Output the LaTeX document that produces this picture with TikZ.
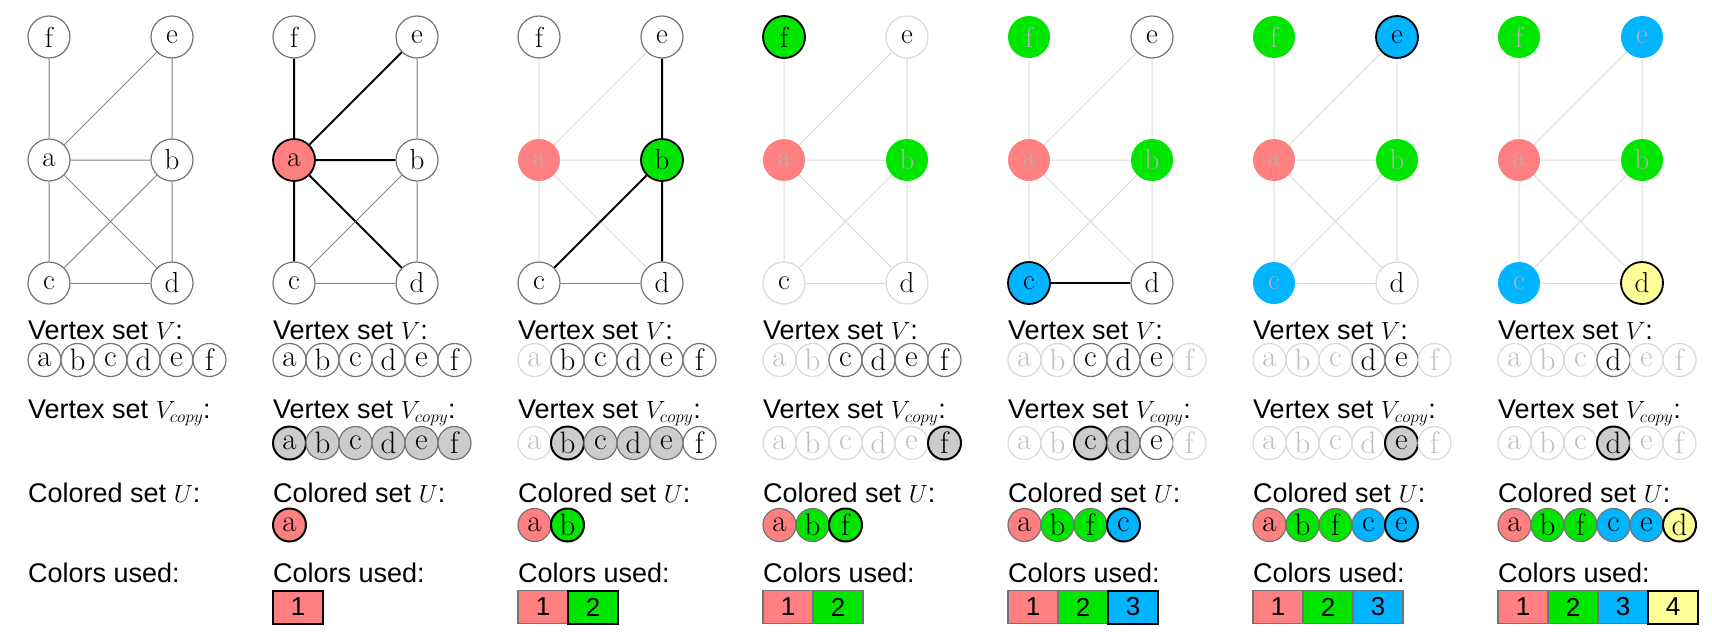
\documentclass[tikz,border=0pt]{standalone}
\usepackage{fontspec}
\setsansfont{Liberation Sans}
\usetikzlibrary{positioning}
\definecolor{cred}{HTML}{FF8080}
\definecolor{cgreen}{HTML}{00E600}
\definecolor{cblue}{HTML}{00B4FF}
\definecolor{cyellow}{HTML}{FFFF99}
\tikzset{
  vtx/.style={circle,draw=black!55,fill=white,line width=1.2pt,minimum size=42pt,inner sep=0pt,font=\fontsize{29}{29}\selectfont},
  sm/.style={vtx,minimum size=33pt,font=\fontsize{31}{31}\selectfont},
  box/.style={rectangle,draw=black!55,line width=1.2pt,minimum width=50pt,minimum height=33pt,inner sep=0pt,font=\sffamily\fontsize{26}{26}\selectfont},
  txt/.style={anchor=west,inner sep=0pt,font=\sffamily\fontsize{27}{30}\selectfont},
  % vertex states
  pl/.style={}, gf/.style={draw=black!15},
  ac/.style={fill=#1,draw=black,line width=1.8pt},
  dn/.style={fill=#1,draw=none,text=black!30},
  acR/.style={ac=cred}, acG/.style={ac=cgreen}, acB/.style={ac=cblue}, acY/.style={ac=cyellow},
  dnR/.style={dn=cred}, dnG/.style={dn=cgreen}, dnB/.style={dn=cblue},
  % list states
  lp/.style={}, lf/.style={draw=black!15,text=black!25},
  lg/.style={fill=black!20}, lga/.style={fill=black!20,draw=black,line width=2pt},
  uR/.style={fill=cred}, uG/.style={fill=cgreen}, uB/.style={fill=cblue},
  uRa/.style={ac=cred,line width=2pt}, uGa/.style={ac=cgreen,line width=2pt},
  uBa/.style={ac=cblue,line width=2pt}, uYa/.style={ac=cyellow,line width=2pt},
  bR/.style={fill=cred}, bG/.style={fill=cgreen}, bB/.style={fill=cblue},
  bRa/.style={fill=cred,draw=black,line width=2pt}, bGa/.style={fill=cgreen,draw=black,line width=2pt},
  bBa/.style={fill=cblue,draw=black,line width=2pt}, bYa/.style={fill=cyellow,draw=black,line width=2pt},
  % edge states
  en/.style={draw=black!50,line width=1pt},
  ef/.style={draw=black!15,line width=1pt},
  eb/.style={draw=black,line width=2pt}
}
\begin{document}
\begin{tikzpicture}[x=1pt,y=-1pt]
\useasboundingbox (0,0) rectangle (1712,632);
% graphs
\foreach \k/\nf/\ne/\na/\nb/\nc/\nd/\ea/\eb/\ec in {
  0/pl/pl/pl/pl/pl/pl/en/en/en,
  1/pl/pl/acR/pl/pl/pl/eb/en/en,
  2/pl/pl/dnR/acG/pl/pl/ef/eb/en,
  3/acG/gf/dnR/dnG/gf/gf/ef/ef/ef,
  4/dnG/pl/dnR/dnG/acB/pl/ef/ef/eb,
  5/dnG/acB/dnR/dnG/dnB/gf/ef/ef/ef,
  6/dnG/dnB/dnR/dnG/dnB/acY/ef/ef/ef}{
  \pgfmathsetmacro\x{49+245*\k}
  \node[vtx,\nf] (f\k) at (\x,37) {f};
  \node[vtx,\ne] (e\k) at (\x+123,37) {e};
  \node[vtx,\na] (a\k) at (\x,160) {a};
  \node[vtx,\nb] (b\k) at (\x+123,160) {b};
  \node[vtx,\nc] (c\k) at (\x,283) {c};
  \node[vtx,\nd] (d\k) at (\x+123,283) {d};
  \draw[\ea] (a\k)--(f\k) (a\k)--(e\k) (a\k)--(b\k) (a\k)--(c\k) (a\k)--(d\k);
  \draw[\eb] (b\k)--(e\k) (b\k)--(d\k) (b\k)--(c\k);
  \draw[\ec] (c\k)--(d\k);
  \node[txt] (lV\k) at (\x-21,330) {Vertex set $V$:};
  \node[txt] (lC\k) at (\x-21,413) {Vertex set $V_{copy}$:};
  \node[txt] (lU\k) at (\x-21,493) {Colored set $U$:};
  \node[txt] (lK\k) at (\x-21,573) {Colors used:};
}
% vertex set V
\foreach \k/\spec in {
  0/{lp/a,lp/b,lp/c,lp/d,lp/e,lp/f},
  1/{lp/a,lp/b,lp/c,lp/d,lp/e,lp/f},
  2/{lf/a,lp/b,lp/c,lp/d,lp/e,lp/f},
  3/{lf/a,lf/b,lp/c,lp/d,lp/e,lp/f},
  4/{lf/a,lf/b,lp/c,lp/d,lp/e,lf/f},
  5/{lf/a,lf/b,lf/c,lp/d,lp/e,lf/f},
  6/{lf/a,lf/b,lf/c,lp/d,lf/e,lf/f}}{
  \pgfmathsetmacro\x{49+245*\k}
  \foreach \s/\l [count=\i from 0] in \spec
    \node[sm,\s] (v\k\l) at (\x-4.5+33*\i,360) {\l};
}
% vertex set V_copy
\foreach \k/\spec in {
  1/{lga/a,lg/b,lg/c,lg/d,lg/e,lg/f},
  2/{lf/a,lga/b,lg/c,lg/d,lg/e,lp/f},
  3/{lf/a,lf/b,lf/c,lf/d,lf/e,lga/f},
  4/{lf/a,lf/b,lga/c,lg/d,lp/e,lf/f},
  5/{lf/a,lf/b,lf/c,lf/d,lga/e,lf/f},
  6/{lf/a,lf/b,lf/c,lga/d,lf/e,lf/f}}{
  \pgfmathsetmacro\x{49+245*\k}
  \foreach \s/\l [count=\i from 0] in \spec
    \node[sm,\s] (w\k\l) at (\x-4.5+33*\i,443) {\l};
}
% colored set U
\foreach \k/\spec in {
  1/{uRa/a},
  2/{uR/a,uGa/b},
  3/{uR/a,uG/b,uGa/f},
  4/{uR/a,uG/b,uG/f,uBa/c},
  5/{uR/a,uG/b,uG/f,uB/c,uBa/e},
  6/{uR/a,uG/b,uG/f,uB/c,uB/e,uYa/d}}{
  \pgfmathsetmacro\x{49+245*\k}
  \foreach \s/\l [count=\i from 0] in \spec
    \node[sm,\s] (u\k\l) at (\x-4.5+33*\i,525) {\l};
}
% colors used
\foreach \k/\spec in {
  1/{bRa/1},
  2/{bR/1,bGa/2},
  3/{bR/1,bG/2},
  4/{bR/1,bG/2,bBa/3},
  5/{bR/1,bG/2,bB/3},
  6/{bR/1,bG/2,bB/3,bYa/4}}{
  \pgfmathsetmacro\x{49+245*\k}
  \foreach \s/\l [count=\i from 0] in \spec
    \node[box,\s] (k\k\l) at (\x+4+50*\i,607) {\l};
}
\end{tikzpicture}
\end{document}
